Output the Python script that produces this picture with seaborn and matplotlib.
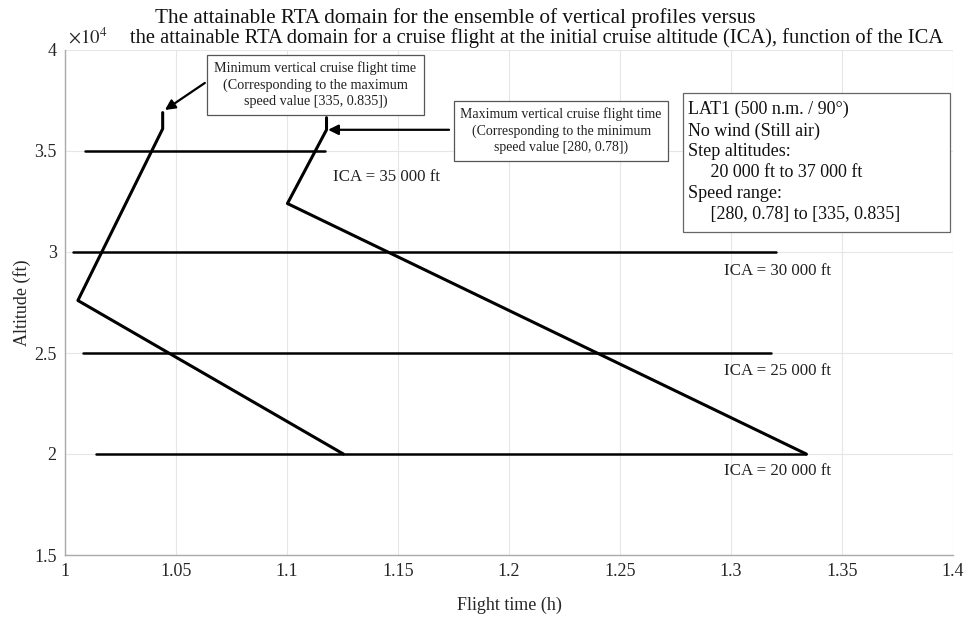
import matplotlib
matplotlib.use("Agg")
import matplotlib.pyplot as plt
from matplotlib.patches import Rectangle
import seaborn as sns
import pandas as pd

# ---- data ----
min_time = [1.1254, 1.0058, 1.0440, 1.0440]
min_alt = [20000, 27600, 36100, 36900]
max_time = [1.3339, 1.1002, 1.1178, 1.1178]
max_alt = [20000, 32400, 36050, 36650]

ica_alt = [35000, 30000, 25000, 20000]
ica_tmin = [1.0090, 1.0036, 1.0081, 1.0139]
ica_tmax = [1.1173, 1.3204, 1.3182, 1.3339]
ica_labels = ["ICA = 35 000 ft", "ICA = 30 000 ft", "ICA = 25 000 ft", "ICA = 20 000 ft"]
ica_label_x = [1.1207, 1.2970, 1.2970, 1.2970]
ica_label_y = [33700, 29050, 24100, 19150]

xticks = [1, 1.05, 1.1, 1.15, 1.2, 1.25, 1.3, 1.35, 1.4]
xtick_labels = ["1", "1.05", "1.1", "1.15", "1.2", "1.25", "1.3", "1.35", "1.4"]
yticks = [15000, 20000, 25000, 30000, 35000, 40000]
ytick_labels = ["1.5", "2", "2.5", "3", "3.5", "4"]

sns.set_style("white")
plt.rcParams['font.family'] = ['Liberation Serif', 'DejaVu Serif']
plt.rcParams['mathtext.fontset'] = 'stix'

fig = plt.figure(figsize=(9.68, 6.19), dpi=100)
ax = fig.add_axes([65/968, 1-555/619, (953-65)/968, (555-50)/619])

grid_c = '#e6e6e6'
for xt in xticks:
    ax.axvline(xt, color=grid_c, lw=0.8, zorder=0)
for yt in yticks:
    ax.axhline(yt, color=grid_c, lw=0.8, zorder=0)

df_min = pd.DataFrame({"t": min_time, "alt": min_alt})
df_max = pd.DataFrame({"t": max_time, "alt": max_alt})
sns.lineplot(data=df_min, x="t", y="alt", sort=False, color='black', lw=2.2, ax=ax, estimator=None)
sns.lineplot(data=df_max, x="t", y="alt", sort=False, color='black', lw=2.2, ax=ax, estimator=None)

for a, t0, t1 in zip(ica_alt, ica_tmin, ica_tmax):
    df = pd.DataFrame({"t": [t0, t1], "alt": [a, a]})
    sns.lineplot(data=df, x="t", y="alt", sort=False, color='black', lw=1.8, ax=ax, estimator=None)

for lab, lx, ly in zip(ica_labels, ica_label_x, ica_label_y):
    ax.text(lx, ly, lab, fontsize=12.2, ha='left', va='center', color='#222222')

ax.set_xlim(1, 1.4)
ax.set_ylim(15000, 40000)
ax.set_xticks(xticks)
ax.set_xticklabels(xtick_labels)
ax.set_yticks(yticks)
ax.set_yticklabels(ytick_labels)
ax.tick_params(direction='in', length=4, color='#888888', labelsize=13, labelcolor='#262626', pad=6)
for s in ['top', 'right']:
    ax.spines[s].set_visible(False)
for s in ['left', 'bottom']:
    ax.spines[s].set_color('#aaaaaa')
    ax.spines[s].set_linewidth(1.0)

ax.set_xlabel("Flight time (h)", fontsize=13, color='#262626', labelpad=12)
ax.set_ylabel("Altitude (ft)", fontsize=13, color='#262626', labelpad=2)

fig.text(68/968, 1-44/619, r"$\times10^4$", fontsize=13.5, color='#262626', ha='left', va='baseline')

fig.text(155/968, 1-18/619, "The attainable RTA domain for the ensemble of vertical profiles versus",
         fontsize=15.2, ha='left', va='center', color='#111111')
fig.text(130/968, 1-38/619, "the attainable RTA domain for a cruise flight at the initial cruise altitude (ICA), function of the ICA",
         fontsize=14.8, ha='left', va='center', color='#111111')

# annotation 1 (minimum)
ax.text(1.1128, 38270, "Minimum vertical cruise flight time\n(Corresponding to the maximum\nspeed value [335, 0.835])",
        fontsize=10.2, ha='center', va='center', color='#222222', linespacing=1.3,
        bbox=dict(boxstyle='square,pad=0.5', fc='white', ec='#555555', lw=0.9))
ax.annotate("", xy=(1.0450, 37030), xytext=(1.0630, 38370),
            arrowprops=dict(arrowstyle='-|>', color='black', lw=1.6, mutation_scale=15,
                            shrinkA=0, shrinkB=0))

# annotation 2 (maximum)
ax.annotate("", xy=(1.1185, 36050), xytext=(1.1730, 36050),
            arrowprops=dict(arrowstyle='-|>', color='black', lw=1.6, mutation_scale=15,
                            shrinkA=0, shrinkB=0))
ax.text(1.2235, 36000, "Maximum vertical cruise flight time\n(Corresponding to the minimum\nspeed value [280, 0.78])",
        fontsize=10, ha='center', va='center', color='#222222', linespacing=1.3,
        bbox=dict(boxstyle='square,pad=0.45', fc='white', ec='#555555', lw=0.9))

# info box
fig.patches.append(Rectangle((683/968, 1-232/619), (950-683)/968, (232-93)/619,
                             transform=fig.transFigure, fc='white', ec='#666666', lw=0.9, zorder=5))
fig.text(688/968, 1-162/619, "LAT1 (500 n.m. / 90°)\nNo wind (Still air)\nStep altitudes:\n     20 000 ft to 37 000 ft\nSpeed range:\n     [280, 0.78] to [335, 0.835]",
         fontsize=13, ha='left', va='center', color='#111111', linespacing=1.3, zorder=6)

fig.savefig("out.png", dpi=100)
